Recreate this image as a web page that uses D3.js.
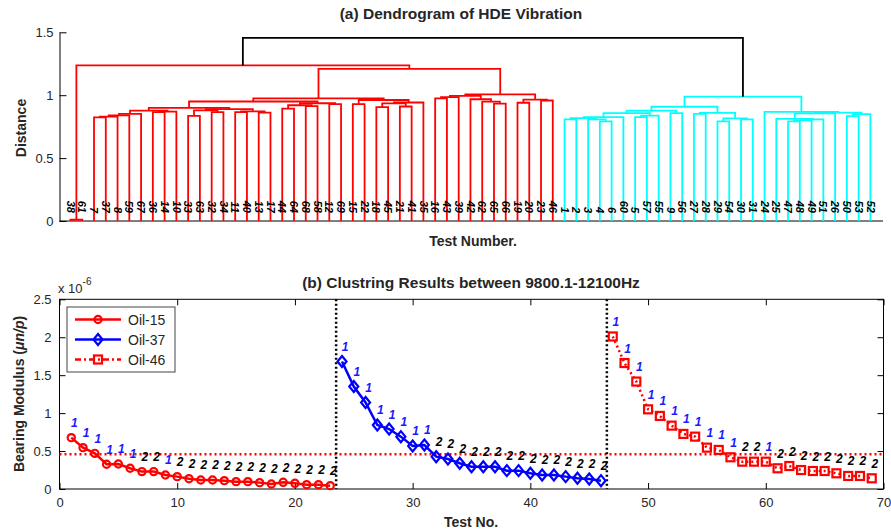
<!DOCTYPE html>
<html>
<head>
<meta charset="utf-8">
<script src="https://cdn.jsdelivr.net/npm/d3@7"></script>
<style>
body { margin: 0; background: #fff; }
svg text { font-family: "Liberation Sans", Arial, sans-serif; }
</style>
</head>
<body>
<svg id="chart" width="891" height="530"></svg>
<script>
// ---- (a) dendrogram data: leaf order and merges [node, left, right, height]
var leafLabels = [38,61,7,37,8,59,67,36,14,10,33,63,32,34,11,40,13,17,44,64,68,58,12,69,15,22,18,45,21,41,35,16,43,39,42,62,65,66,19,20,23,46,
                  1,2,3,4,6,60,5,57,55,9,56,27,28,29,54,30,31,24,25,47,48,49,51,26,50,53,52];

var redLinks = [
    ["p0", 0, 1, 0.01],
    ["n1", 2, 3, 0.823], ["n2", "n1", 4, 0.830], ["n3", "n2", 5, 0.840], ["n4", "n3", 6, 0.852],
    ["p1", 7, 8, 0.866], ["p2", "p1", 9, 0.870], ["n5", "n4", "p2", 0.878],
    ["q1", 10, 11, 0.835], ["q2", 12, 13, 0.866], ["q3", "q1", "q2", 0.880],
    ["r1", 14, 15, 0.866], ["r2", 16, 17, 0.862], ["r3", "r1", "r2", 0.872],
    ["q4", "q3", "r3", 0.890], ["n6", "n5", "q4", 0.900],
    ["s1", 18, 19, 0.893], ["s2", 20, 21, 0.913], ["s3", "s1", "s2", 0.920],
    ["t1", 22, 23, 0.929], ["s4", "s3", "t1", 0.936], ["L", "n6", "s4", 0.950],
    ["t2", 24, 25, 0.929], ["u1", 26, 27, 0.905], ["u2", 28, 29, 0.910], ["u3", "u1", "u2", 0.935],
    ["u4", "u3", 30, 0.942], ["R", "t2", "u4", 0.962], ["B1", "L", "R", 0.975],
    ["v1", 31, 32, 0.975], ["v2", "v1", 33, 0.985], ["w1", 36, 37, 0.933], ["w2", 35, "w1", 0.949],
    ["w3", 34, "w2", 0.968], ["v3", "v2", "w3", 0.995],
    ["x1", 38, 39, 0.940], ["x2", 40, 41, 0.958], ["x3", "x1", "x2", 0.965],
    ["B2", "v3", "x3", 1.007], ["B", "B1", "B2", 1.21], ["RED", "p0", "B", 1.237]
];
var cyanLinks = [
    ["c1", 42, 43, 0.808], ["c2", 45, 46, 0.792], ["c3", 44, "c2", 0.808], ["c4", "c1", "c3", 0.818],
    ["c5", "c4", 47, 0.826], ["c6", 48, 49, 0.826], ["c7", "c6", 50, 0.838], ["c8", "c5", "c7", 0.858],
    ["c9", 51, 52, 0.858], ["C1a", "c8", "c9", 0.878],
    ["z1", 53, 54, 0.852], ["y1", 55, 56, 0.792], ["y2", 57, 58, 0.808], ["y3", "y1", "y2", 0.815],
    ["C1b", "z1", "y3", 0.860], ["C1", "C1a", "C1b", 0.908],
    ["d1", 61, 62, 0.792], ["d2", "d1", 63, 0.800], ["d3", "d2", 64, 0.808], ["d4", 60, "d3", 0.812],
    ["d5", "d4", 65, 0.855], ["e1", 66, 67, 0.833], ["e2", "e1", 68, 0.850], ["d6", "d5", "e2", 0.862],
    ["C2", 59, "d6", 0.868], ["CY", "C1", "C2", 0.988]
];
var topLinks = [["TOP", "RED", "CY", 1.456]];
var distTicks = [0, 0.5, 1, 1.5];

// ---- (b) clustering results (values x 1e-6)
var oil15Tests = d3.range(1, 24);
var oil15Values = [0.677,0.545,0.47,0.326,0.33,0.273,0.229,0.229,0.185,0.163,0.136,0.119,0.119,0.11,0.097,0.097,0.084,0.066,0.088,0.075,0.057,0.057,0.044];
var oil15Cluster = [1,1,1,1,1,1,2,2,1,2,2,2,2,2,2,2,2,2,2,2,2,2,2];
var oil37Tests = d3.range(24, 47);
var oil37Values = [1.68,1.35,1.14,0.844,0.79,0.69,0.567,0.58,0.426,0.396,0.339,0.294,0.294,0.294,0.242,0.242,0.207,0.185,0.185,0.163,0.141,0.132,0.11];
var oil37Cluster = [1,1,1,1,1,1,1,1,2,2,2,2,2,2,2,2,2,2,2,2,2,2,2];
var oil46Tests = d3.range(47, 70);
var oil46Values = [2.01,1.66,1.416,1.05,0.963,0.835,0.726,0.69,0.545,0.515,0.418,0.36,0.36,0.36,0.273,0.303,0.25,0.237,0.237,0.207,0.172,0.172,0.141];
var oil46Cluster = [1,1,1,1,1,1,1,1,1,1,1,2,2,1,2,2,2,2,2,2,2,2,2];
var splitTests = [23.5, 46.5];
var threshold = 0.458;
var testTicks = [0,10,20,30,40,50,60,70];
var modTicks = [0,0.5,1,1.5,2,2.5];

var svg = d3.select("#chart");
var txt = "#262626";

// ================= (a) dendrogram =================
var xLeaf = d3.scaleLinear().domain([0, leafLabels.length - 1]).range([70.5, 870.4]);
var yDist = d3.scaleLinear().domain([0, 1.5]).range([221, 32.3]);
var ga = svg.append("g");

ga.append("g")
    .attr("transform", "translate(59.5,0)")
    .call(d3.axisLeft(yDist).tickValues(distTicks).tickSize(-7).tickSizeOuter(0).tickPadding(6).tickFormat(d3.format("~g")))
    .call(function (g) {
        g.selectAll("text").attr("font-size", 13).attr("fill", txt).attr("font-family", null);
        g.selectAll("line, path").attr("stroke", "#000");
    });
ga.append("line").attr("x1", 59.5).attr("x2", 883).attr("y1", 221).attr("y2", 221).attr("stroke", "#000");

var nodes = {};
leafLabels.forEach(function (d, i) { nodes[i] = {x: xLeaf(i), h: 0}; });

function drawLinks(list, color) {
    list.forEach(function (m) {
        var a = nodes[m[1]], b = nodes[m[2]];
        nodes[m[0]] = {x: (a.x + b.x) / 2, h: m[3]};
        ga.append("path")
            .attr("d", "M" + a.x + "," + yDist(a.h) + "V" + yDist(m[3]) + "H" + b.x + "V" + yDist(b.h))
            .attr("fill", "none")
            .attr("stroke", color)
            .attr("stroke-width", 1.8);
    });
}
drawLinks(redLinks, "#ff0000");
drawLinks(cyanLinks, "#00ffff");
drawLinks(topLinks, "#000000");

ga.selectAll(".leaf")
    .data(leafLabels)
    .enter().append("text")
    .attr("class", "leaf")
    .attr("transform", function (d, i) { return "translate(" + xLeaf(i) + ",213) rotate(90)"; })
    .attr("text-anchor", "end")
    .attr("dy", "0.35em")
    .attr("font-size", 11)
    .attr("font-weight", "bold")
    .attr("font-style", "italic")
    .attr("fill", "#000")
    .text(function (d) { return d; });

ga.append("text").attr("x", 461).attr("y", 19).attr("text-anchor", "middle")
    .attr("font-size", 15.5).attr("font-weight", "bold").attr("fill", txt)
    .text("(a) Dendrogram of HDE Vibration");
ga.append("text").attr("x", 473).attr("y", 246).attr("text-anchor", "middle")
    .attr("font-size", 14).attr("font-weight", "bold").attr("fill", txt)
    .text("Test Number.");
ga.append("text").attr("transform", "translate(26,128) rotate(-90)").attr("text-anchor", "middle")
    .attr("font-size", 14).attr("font-weight", "bold").attr("fill", txt)
    .text("Distance");

// ================= (b) clustering results =================
var xTest = d3.scaleLinear().domain([0, 70]).range([59.5, 883.5]);
var yMod = d3.scaleLinear().domain([0, 2.5]).range([489, 299.3]);
var gb = svg.append("g");

function styleAxis(g) {
    g.selectAll("text").attr("font-size", 13).attr("fill", txt).attr("font-family", null);
    g.selectAll("line").attr("stroke", "#000");
    g.select(".domain").remove();
}
gb.append("g").attr("transform", "translate(0,489)")
    .call(d3.axisBottom(xTest).tickValues(testTicks).tickSize(-6).tickPadding(9).tickFormat(d3.format("d")))
    .call(styleAxis);
gb.append("g").attr("transform", "translate(0,299.3)")
    .call(d3.axisTop(xTest).tickValues(testTicks).tickSize(-6).tickFormat(""))
    .call(styleAxis);
gb.append("g").attr("transform", "translate(59.5,0)")
    .call(d3.axisLeft(yMod).tickValues(modTicks).tickSize(-6).tickPadding(8).tickFormat(d3.format("~g")))
    .call(styleAxis);
gb.append("g").attr("transform", "translate(883.5,0)")
    .call(d3.axisRight(yMod).tickValues(modTicks).tickSize(-6).tickFormat(""))
    .call(styleAxis);
gb.append("rect").attr("x", 59.5).attr("y", 299.3).attr("width", 824).attr("height", 189.7)
    .attr("fill", "none").attr("stroke", "#000");

// threshold and split lines
gb.append("line").attr("x1", xTest(0)).attr("x2", xTest(70)).attr("y1", yMod(threshold)).attr("y2", yMod(threshold))
    .attr("stroke", "#ff0000").attr("stroke-width", 2.5).attr("stroke-dasharray", "2,3");
gb.selectAll(".split").data(splitTests).enter().append("line")
    .attr("x1", function (d) { return xTest(d); }).attr("x2", function (d) { return xTest(d); })
    .attr("y1", yMod(2.5)).attr("y2", yMod(0))
    .attr("stroke", "#000").attr("stroke-width", 2.5).attr("stroke-dasharray", "2,2.5");

var series = [
    {name: "Oil-15", tests: oil15Tests, values: oil15Values, cl: oil15Cluster, color: "#ff0000", dash: null, marker: "circle"},
    {name: "Oil-37", tests: oil37Tests, values: oil37Values, cl: oil37Cluster, color: "#0000ff", dash: null, marker: "diamond"},
    {name: "Oil-46", tests: oil46Tests, values: oil46Values, cl: oil46Cluster, color: "#ff0000", dash: "2,3", marker: "square"}
];

function marker(g, type, x, y, color) {
    var m;
    if (type === "circle") {
        m = g.append("circle").attr("cx", x).attr("cy", y).attr("r", 3.6);
    } else if (type === "diamond") {
        m = g.append("path").attr("d", "M" + x + "," + (y - 5.5) + "L" + (x + 4.5) + "," + y + "L" + x + "," + (y + 5.5) + "L" + (x - 4.5) + "," + y + "Z");
    } else {
        m = g.append("rect").attr("x", x - 4).attr("y", y - 4).attr("width", 8).attr("height", 8);
    }
    m.attr("fill", "none").attr("stroke", color).attr("stroke-width", 2.2);
}

var line = d3.line().x(function (d) { return xTest(d[0]); }).y(function (d) { return yMod(d[1]); });
series.forEach(function (s) {
    var pts = s.tests.map(function (t, i) { return [t, s.values[i]]; });
    gb.append("path").attr("d", line(pts)).attr("fill", "none")
        .attr("stroke", s.color).attr("stroke-width", 2.5)
        .attr("stroke-dasharray", s.dash);
    pts.forEach(function (p) { marker(gb, s.marker, xTest(p[0]), yMod(p[1]), s.color); });
    gb.selectAll(null).data(pts).enter().append("text")
        .attr("x", function (d) { return xTest(d[0]) + 3; })
        .attr("y", function (d) { return yMod(d[1]) - 10.5; })
        .attr("text-anchor", "middle")
        .attr("font-size", 12).attr("font-weight", "bold").attr("font-style", "italic")
        .attr("fill", function (d, i) { return s.cl[i] === 1 ? "#1a1aff" : "#000"; })
        .text(function (d, i) { return s.cl[i]; });
});

// legend
var lg = gb.append("g");
lg.append("rect").attr("x", 67).attr("y", 307).attr("width", 108).attr("height", 65)
    .attr("fill", "#fff").attr("stroke", "#444").attr("stroke-width", 1);
series.forEach(function (s, i) {
    var y = 319.5 + i * 20;
    lg.append("line").attr("x1", 75).attr("x2", 121).attr("y1", y).attr("y2", y)
        .attr("stroke", s.color).attr("stroke-width", 2.5)
        .attr("stroke-dasharray", s.dash ? "6,3,2,3" : null);
    marker(lg, s.marker, 98, y, s.color);
    lg.append("text").attr("x", 128).attr("y", y + 5).attr("font-size", 14).attr("fill", txt).text(s.name);
});

// titles and labels
gb.append("text").attr("x", 471).attr("y", 288).attr("text-anchor", "middle")
    .attr("font-size", 15.5).attr("font-weight", "bold").attr("fill", txt)
    .text("(b) Clustring Results between 9800.1-12100Hz");
gb.append("text").attr("x", 471).attr("y", 527).attr("text-anchor", "middle")
    .attr("font-size", 14).attr("font-weight", "bold").attr("fill", txt)
    .text("Test No.");
var yl = gb.append("text").attr("transform", "translate(24,394) rotate(-90)").attr("text-anchor", "middle")
    .attr("font-size", 14).attr("font-weight", "bold").attr("fill", txt);
yl.append("tspan").text("Bearing Modulus (");
yl.append("tspan").attr("font-style", "italic").text("\u03bcn/p");
yl.append("tspan").text(")");
var ex = gb.append("text").attr("x", 58).attr("y", 293).attr("font-size", 13).attr("fill", txt);
ex.append("tspan").text("x 10");
ex.append("tspan").attr("dy", -8).attr("font-size", 10).text("-6");
</script>
</body>
</html>
